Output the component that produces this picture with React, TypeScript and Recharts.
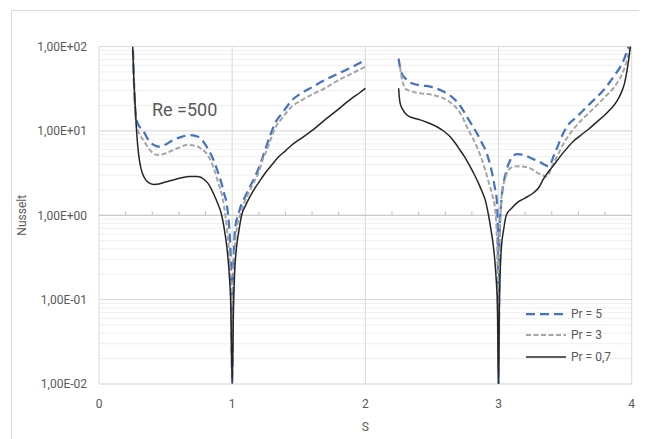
import { LineChart, Line, XAxis, YAxis, CartesianGrid, ReferenceLine } from "recharts";

type Pt = [number, number | null];

// S, Nusselt pairs (left and right blade segments)
const pr5Left: Pt[] = [
  [0.255, 90], [0.262, 40], [0.27, 20], [0.282, 13.5], [0.3, 11.5], [0.333, 10], [0.36, 8.3],
  [0.394, 7.1], [0.43, 6.6], [0.456, 6.5], [0.5, 6.9], [0.558, 7.8], [0.62, 8.5], [0.682, 8.9],
  [0.745, 8.5], [0.78, 7.6], [0.808, 6.5], [0.84, 5.3], [0.87, 4.13], [0.9, 3.0], [0.92, 2.39],
  [0.94, 1.8], [0.958, 1.39], [0.975, 0.8], [0.985, 0.45], [0.993, 0.15], [1.0, 0.01],
  [1.007, 0.15], [1.015, 0.45], [1.025, 0.75], [1.044, 1.0], [1.07, 1.35], [1.097, 1.66],
  [1.135, 2.2], [1.172, 2.87], [1.21, 4.0], [1.247, 5.9], [1.285, 8.8], [1.322, 12.3],
  [1.38, 16.5], [1.448, 23], [1.52, 28], [1.6, 33], [1.696, 40], [1.8, 48], [1.9, 57], [2.0, 69],
];
const pr5Right: Pt[] = [
  [2.25, 72], [2.262, 55], [2.273, 48], [2.3, 42], [2.349, 36.6], [2.42, 34.5], [2.487, 33.4],
  [2.587, 29.2], [2.64, 26], [2.687, 22.2], [2.725, 18.5], [2.762, 14.7], [2.8, 11.8],
  [2.837, 9.4], [2.875, 7.2], [2.912, 5.4], [2.94, 3.8], [2.962, 2.62], [2.975, 2.0],
  [2.987, 1.52], [2.995, 0.6], [3.0, 0.01], [3.008, 0.6], [3.02, 1.4], [3.038, 2.39],
  [3.06, 3.4], [3.088, 4.5], [3.138, 5.3], [3.19, 5.2], [3.238, 4.8], [3.28, 4.5],
  [3.313, 4.25], [3.35, 3.95], [3.376, 3.8], [3.395, 4.2], [3.413, 5.0], [3.44, 6.3],
  [3.463, 7.8], [3.513, 11.2], [3.588, 14.7], [3.689, 21.2], [3.789, 30.5], [3.864, 43.8],
  [3.94, 69], [3.977, 100],
];

const pr3Left: Pt[] = [
  [0.257, 80], [0.265, 30], [0.27, 18], [0.28, 12], [0.3, 9.4], [0.333, 7.8], [0.38, 6.0],
  [0.433, 5.2], [0.48, 5.3], [0.533, 5.7], [0.6, 6.3], [0.659, 6.8], [0.734, 6.6], [0.77, 6.1],
  [0.808, 5.4], [0.84, 4.4], [0.87, 3.3], [0.9, 2.3], [0.92, 1.82], [0.94, 1.25], [0.96, 0.7],
  [0.98, 0.3], [0.993, 0.1], [1.0, 0.01], [1.007, 0.1], [1.02, 0.4], [1.035, 0.7], [1.06, 1.0],
  [1.09, 1.4], [1.122, 1.82], [1.16, 2.4], [1.197, 3.15], [1.23, 4.6], [1.26, 5.9], [1.29, 8.0],
  [1.322, 10.7], [1.38, 14.5], [1.448, 19.4], [1.52, 23], [1.6, 27], [1.696, 32], [1.8, 40],
  [1.9, 48], [2.0, 57.6],
];
const pr3Right: Pt[] = [
  [2.26, 57.6], [2.27, 45], [2.285, 36], [2.297, 32], [2.34, 29.5], [2.384, 28.4], [2.45, 27.5],
  [2.51, 26.6], [2.611, 23.2], [2.65, 21], [2.687, 18.5], [2.725, 15], [2.762, 11.2], [2.8, 8.6],
  [2.837, 6.5], [2.87, 4.8], [2.9, 3.44], [2.925, 2.5], [2.95, 1.82], [2.975, 1.16], [2.99, 0.4],
  [3.0, 0.01], [3.008, 0.4], [3.025, 1.82], [3.05, 2.7], [3.075, 3.44], [3.1, 3.7],
  [3.138, 3.8], [3.19, 3.75], [3.238, 3.6], [3.29, 3.2], [3.326, 3.0], [3.363, 2.87],
  [3.4, 3.77], [3.44, 5.0], [3.489, 7.1], [3.588, 11.7], [3.689, 16.9], [3.789, 24.3],
  [3.889, 36.6], [3.93, 48], [3.965, 69], [3.99, 100],
];

const pr07Left: Pt[] = [
  [0.253, 100], [0.262, 40], [0.272, 20], [0.284, 9], [0.298, 5.2], [0.315, 3.6], [0.34, 2.8],
  [0.37, 2.45], [0.41, 2.32], [0.45, 2.35], [0.5, 2.48], [0.56, 2.62], [0.62, 2.78],
  [0.68, 2.88], [0.74, 2.87], [0.79, 2.65], [0.83, 2.25], [0.86, 1.8], [0.89, 1.4], [0.92, 1.02],
  [0.94, 0.7], [0.96, 0.42], [0.978, 0.2], [0.99, 0.08], [1.0, 0.01], [1.01, 0.08],
  [1.018, 0.2], [1.033, 0.42], [1.05, 0.65], [1.071, 1.0], [1.1, 1.3], [1.147, 1.82],
  [1.2, 2.45], [1.247, 3.15], [1.3, 4.0], [1.347, 4.9], [1.4, 5.8], [1.448, 6.8], [1.5, 7.8],
  [1.573, 9.4], [1.63, 11], [1.696, 13.5], [1.76, 16.2], [1.821, 19.4], [1.9, 24.5],
  [1.96, 28.5], [2.0, 32],
];
const pr07Right: Pt[] = [
  [2.25, 32], [2.255, 25], [2.262, 21], [2.28, 18], [2.312, 15.4], [2.36, 14.2], [2.412, 13.5],
  [2.47, 12.5], [2.537, 11.2], [2.59, 9.9], [2.637, 8.5], [2.68, 7], [2.712, 5.9], [2.75, 4.8],
  [2.787, 3.77], [2.82, 3.0], [2.85, 2.39], [2.88, 1.85], [2.9, 1.52], [2.925, 1.0],
  [2.945, 0.65], [2.962, 0.42], [2.98, 0.2], [2.992, 0.08], [3.0, 0.01], [3.006, 0.08],
  [3.012, 0.2], [3.022, 0.42], [3.04, 0.7], [3.058, 1.0], [3.1, 1.22], [3.15, 1.45],
  [3.2, 1.6], [3.263, 1.85], [3.3, 2.1], [3.338, 2.7], [3.413, 3.9], [3.489, 5.6],
  [3.564, 7.6], [3.614, 8.8], [3.68, 10.6], [3.739, 12.8], [3.79, 15], [3.84, 18],
  [3.889, 22.5], [3.92, 28], [3.945, 36], [3.965, 52], [3.98, 75], [3.99, 100],
];

const gapS = 2.12;

const xTicks = [0, 1, 2, 3, 4];
const xMinorTicks = [0.2, 0.4, 0.6, 0.8, 1.2, 1.4, 1.6, 1.8, 2.2, 2.4, 2.6, 2.8, 3.2, 3.4, 3.6, 3.8];
const decades = [0.01, 0.1, 1, 10, 100];
const minorSteps = [2, 3, 4, 5, 6, 7, 8, 9];
const yTicks = decades.flatMap((d) => (d < 100 ? [d, ...minorSteps.map((m) => +(d * m).toPrecision(3))] : [d]));

const series = [
  { name: "Pr = 5", left: pr5Left, right: pr5Right, color: "#4472C4", width: 2.25, dash: "9 5" },
  { name: "Pr = 3", left: pr3Left, right: pr3Right, color: "#A5A5A5", width: 2, dash: "5 2.5" },
  { name: "Pr = 0,7", left: pr07Left, right: pr07Right, color: "#262626", width: 1.5, dash: undefined },
];

const toRows = (left: Pt[], right: Pt[]) =>
  [...left, [gapS, null] as Pt, ...right].map(([s, v]) => ({ s, v }));

const textColor = "#595959";
const font = "Roboto, 'Liberation Sans', sans-serif";

function sciLabel(v: number) {
  const exp = Math.round(Math.log10(v));
  if (Math.abs(v - Math.pow(10, exp)) > 1e-9 * v) return "";
  const sign = exp < 0 ? "-" : "+";
  return `1,00E${sign}${String(Math.abs(exp)).padStart(2, "0")}`;
}

function AxisAtOne(props: any) {
  const { x1, y1, x2 } = props;
  const span = x2 - x1;
  return (
    <g>
      <line x1={x1} y1={y1} x2={x2} y2={y1} stroke="#bfbfbf" strokeWidth={1} />
      {xMinorTicks.map((t) => {
        const x = x1 + (span * (t - xTicks[0])) / (xTicks[xTicks.length - 1] - xTicks[0]);
        return <line key={t} x1={x} y1={y1} x2={x} y2={y1 - 4} stroke="#bfbfbf" strokeWidth={1} />;
      })}
    </g>
  );
}

function LegendBox() {
  return (
    <div style={{ fontFamily: font, fontSize: 12, color: textColor }}>
      {series.map((s) => (
        <div key={s.name} style={{ display: "flex", alignItems: "center", height: 21.5 }}>
          <svg width={40} height={6} style={{ marginRight: 5 }}>
            <line x1={0} y1={3} x2={40} y2={3} stroke={s.color} strokeWidth={s.width} strokeDasharray={s.dash} />
          </svg>
          <span>{s.name}</span>
        </div>
      ))}
    </div>
  );
}

export default function App() {
  return (
    <div style={{ position: "relative", width: 639, height: 431, overflow: "hidden", background: "#fff" }}>
      <div
        style={{
          position: "absolute",
          left: 3,
          top: 2,
          width: 660,
          height: 460,
          border: "1px solid #d9d9d9",
        }}
      />
      <LineChart
        width={639}
        height={431}
        margin={{ top: 38.5, right: 15.3, left: 0, bottom: 5 }}
        style={{ fontFamily: font }}
      >
        <CartesianGrid horizontal vertical={false} stroke="#efefef" />
        {decades.filter((d) => d !== 1).map((d) => (
          <ReferenceLine key={`d${d}`} y={d} stroke="#d9d9d9" />
        ))}
        {xTicks.map((x) => (
          <ReferenceLine key={`x${x}`} x={x} stroke="#d9d9d9" />
        ))}
        <ReferenceLine y={1} shape={AxisAtOne} />
        <XAxis
          dataKey="s"
          type="number"
          domain={[0, 4]}
          ticks={xTicks}
          axisLine={false}
          tickLine={false}
          tickSize={0}
          tickMargin={15}
          height={50}
          tick={{ fill: textColor, fontSize: 12 }}
          label={{ value: "S", position: "insideBottom", offset: 3, fill: textColor, fontSize: 12 }}
          allowDataOverflow
        />
        <YAxis
          scale="log"
          domain={[0.01, 100]}
          ticks={yTicks}
          allowDataOverflow
          width={91}
          axisLine={false}
          tickLine={false}
          tickSize={0}
          tickMargin={12}
          interval={0}
          tickFormatter={sciLabel}
          tick={{ fill: textColor, fontSize: 12 }}
          label={{
            value: "Nusselt",
            angle: -90,
            position: "insideLeft",
            offset: 14,
            fill: textColor,
            fontSize: 12,
            style: { textAnchor: "middle" },
          }}
        />
        {series.map((s) => (
          <Line
            key={s.name}
            data={toRows(s.left, s.right)}
            dataKey="v"
            name={s.name}
            type="monotone"
            stroke={s.color}
            strokeWidth={s.width}
            strokeDasharray={s.dash}
            dot={false}
            activeDot={false}
            connectNulls={false}
            isAnimationActive={false}
          />
        ))}
      </LineChart>
      <div style={{ position: "absolute", left: 518, top: 295 }}>
        <LegendBox />
      </div>
      <div
        style={{
          position: "absolute",
          left: 144,
          top: 92,
          fontFamily: font,
          fontSize: 18,
          lineHeight: "20px",
          color: textColor,
        }}
      >
        Re =500
      </div>
    </div>
  );
}
